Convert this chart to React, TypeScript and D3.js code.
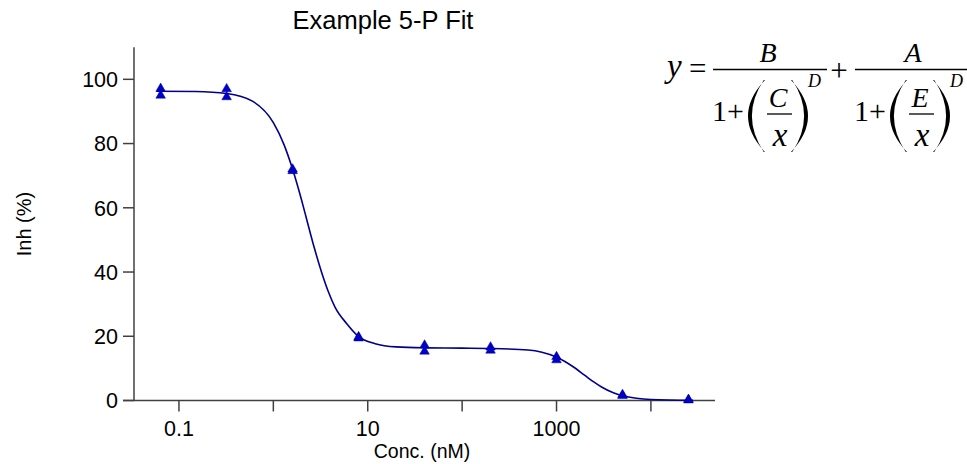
import React from "react";
import * as d3 from "d3";

// ---- data ----
const concentrations = [0.064, 0.32, 1.6, 8, 40, 200, 1000, 5000, 25000];
const replicate1 = [97.1, 97.0, 72.0, 19.8, 17.2, 16.6, 13.6, 1.8, 0.3];
const replicate2 = [95.0, 94.5, 71.5, 19.4, 15.3, 15.6, 12.6, 1.5, 0.1];

// fitted curve
const fitX = [0.058, 0.15, 0.32, 0.6, 1.0, 1.3, 1.6, 2.0, 2.26, 2.7, 3.2, 3.8, 4.5, 6, 8, 12, 20, 40, 100, 200, 500, 700, 1000, 1200, 1500, 2000, 2500, 3000, 4000, 5000, 7000, 10000, 28000];
const fitY = [96.3, 96.2, 95.6, 93.2, 86.5, 79.6, 72.0, 62.2, 56.3, 47.8, 40.5, 34.1, 29.1, 23.9, 19.9, 17.7, 16.7, 16.4, 16.3, 16.2, 15.7, 15.0, 13.5, 12.3, 10.5, 7.8, 5.7, 4.2, 2.4, 1.5, 0.7, 0.3, 0.03];

const xTickValues = [0.1, 1, 10, 100, 1000, 10000];
const xTickLabels = ["0.1", "", "10", "", "1000", ""];
const yTickValues = [0, 20, 40, 60, 80, 100];
const yTickLabels = ["0", "20", "40", "60", "80", "100"];

const title = "Example 5-P Fit";
const xTitle = "Conc. (nM)";
const yTitle = "Inh (%)";

const W = 967;
const H = 464;
const SANS = "'Liberation Sans', Arial, Helvetica, sans-serif";
const SERIF = "'Liberation Serif', 'Times New Roman', serif";
const AXIS = "#404040";
const MARK = "#0000CC";
const LINE = "#00008B";

function Paren({ x0, top, bottom, left }: { x0: number; top: number; bottom: number; left: boolean }) {
  // crescent-shaped tall parenthesis
  const mid = (top + bottom) / 2;
  const b = left ? -1 : 1;
  const d = `M ${x0} ${top} Q ${x0 + b * 34} ${mid} ${x0} ${bottom} L ${x0 + b * 1.2} ${bottom} Q ${x0 + b * 25} ${mid} ${x0 + b * 1.2} ${top} Z`;
  return <path d={d} fill="#000" />;
}

function Denominator({ dx, letter }: { dx: number; letter: string }) {
  return (
    <g transform={`translate(${dx},0)`}>
      <text x={712} y={121} fontFamily={SERIF} fontSize={30}>1+</text>
      <Paren x0={765} top={80} bottom={152} left={true} />
      <text x={778} y={107} fontFamily={SERIF} fontStyle="italic" fontSize={28} textAnchor="middle">{letter}</text>
      <line x1={767} x2={792} y1={114} y2={114} stroke="#000" strokeWidth={1.3} />
      <text x={780} y={146} fontFamily={SERIF} fontStyle="italic" fontSize={33} textAnchor="middle">x</text>
      <Paren x0={791} top={80} bottom={152} left={false} />
      <text x={808} y={87} fontFamily={SERIF} fontStyle="italic" fontSize={18}>D</text>
    </g>
  );
}

export default function App() {
  const x = d3.scaleLog().domain([0.0334, 47750]).range([134, 715]);
  const y = d3.scaleLinear().domain([0, 110]).range([400.5, 47.2]);

  const pts: [number, number][] = fitX.map((v, i) => [v, fitY[i]]);
  const line = d3
    .line<[number, number]>()
    .x((d) => x(d[0]))
    .y((d) => y(d[1]))
    .curve(d3.curveMonotoneX);

  const tri = d3.symbol().type(d3.symbolTriangle).size(40)() as string;

  const markers: { cx: number; cy: number; k: string }[] = [];
  concentrations.forEach((c, i) => {
    markers.push({ cx: x(c), cy: y(replicate1[i]), k: `a${i}` });
    markers.push({ cx: x(c), cy: y(replicate2[i]), k: `b${i}` });
  });

  const x0 = x.range()[0];
  const x1 = x.range()[1];
  const y0 = y.range()[0];
  const y1 = y.range()[1];

  return (
    <svg
      width={W}
      height={H}
      viewBox={`0 0 ${W} ${H}`}
      style={{ position: "absolute", left: 0, top: 0, background: "#fff" }}
    >
      <rect x={0} y={0} width={W} height={H} fill="#fff" />
      {/* title */}
      <text x={383} y={29} textAnchor="middle" fontFamily={SANS} fontSize={25.5} fill="#000">
        {title}
      </text>

      {/* axes */}
      <line x1={x0 - 11} x2={x1} y1={y0} y2={y0} stroke={AXIS} strokeWidth={1.5} />
      <line x1={x0} x2={x0} y1={y1} y2={y0} stroke={AXIS} strokeWidth={1.5} />

      {xTickValues.map((t, i) => (
        <g key={`xt${i}`}>
          <line x1={x(t)} x2={x(t)} y1={y0} y2={y0 + 11} stroke={AXIS} strokeWidth={1.5} />
          {xTickLabels[i] && (
            <text x={x(t)} y={436} textAnchor="middle" fontFamily={SANS} fontSize={21.5} fill="#000">
              {xTickLabels[i]}
            </text>
          )}
        </g>
      ))}
      {yTickValues.map((t, i) => (
        <g key={`yt${i}`}>
          <line x1={x0 - 11} x2={x0} y1={y(t)} y2={y(t)} stroke={AXIS} strokeWidth={1.5} />
          <text x={118} y={y(t)} dy="0.36em" textAnchor="end" fontFamily={SANS} fontSize={21.5} fill="#000">
            {yTickLabels[i]}
          </text>
        </g>
      ))}

      <text x={422} y={458} textAnchor="middle" fontFamily={SANS} fontSize={19.5} fill="#000">
        {xTitle}
      </text>
      <text
        transform={`translate(31,224) rotate(-90)`}
        textAnchor="middle"
        fontFamily={SANS}
        fontSize={20}
        fill="#000"
      >
        {yTitle}
      </text>

      {/* fitted curve */}
      <path d={line(pts) || ""} fill="none" stroke={LINE} strokeWidth={1.6} />

      {/* data */}
      {markers.map((m) => (
        <path key={m.k} d={tri} transform={`translate(${m.cx},${m.cy})`} fill={MARK} stroke="#00008B" strokeWidth={0.5} />
      ))}

      {/* formula */}
      <g fill="#000">
        <text x={667} y={77} fontFamily={SERIF} fontStyle="italic" fontSize={33}>y</text>
        <text x={689} y={79} fontFamily={SERIF} fontSize={31}>=</text>
        <line x1={713} x2={827} y1={69.5} y2={69.5} stroke="#000" strokeWidth={1.4} />
        <text x={768} y={62} fontFamily={SERIF} fontStyle="italic" fontSize={28} textAnchor="middle">B</text>
        <text x={839} y={81} fontFamily={SERIF} fontSize={31} textAnchor="middle">+</text>
        <line x1={855} x2={969} y1={69.5} y2={69.5} stroke="#000" strokeWidth={1.4} />
        <text x={913} y={62} fontFamily={SERIF} fontStyle="italic" fontSize={28} textAnchor="middle">A</text>
        <Denominator dx={0} letter="C" />
        <Denominator dx={142} letter="E" />
      </g>
    </svg>
  );
}
